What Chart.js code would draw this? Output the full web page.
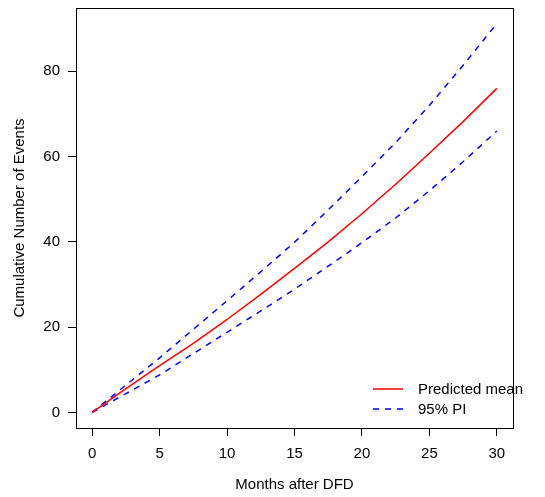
<!DOCTYPE html>
<html>
<head>
<meta charset="utf-8">
<script src="https://cdn.jsdelivr.net/npm/chart.js@4"></script>
<style>
  html, body { margin: 0; padding: 0; background: #fff; }
  #chart { display: block; }
</style>
</head>
<body>
<canvas id="chart" width="545" height="497"></canvas>
<script>
// months after DFD and the three curves
const months = [0, 2.5, 5, 7.5, 10, 12.5, 15, 17.5, 20, 22.5, 25, 27.5, 30];
const predictedMean = [0, 5.6, 11.0, 16.2, 21.8, 27.7, 33.8, 40.0, 46.6, 53.5, 60.8, 68.2, 76.0];
const upperPI = [0, 6.4, 12.8, 19.5, 26.2, 33.0, 39.9, 47.5, 55.3, 63.3, 72.0, 81.4, 91.2];
const lowerPI = [0, 4.4, 8.8, 13.8, 18.8, 23.8, 28.9, 34.3, 39.8, 45.6, 52.0, 58.8, 66.0];

const xTicks = [0, 5, 10, 15, 20, 25, 30];
const yTicks = [0, 20, 40, 60, 80];

const legendLabels = ["Predicted mean", "95% PI"];

const FONT = "'Liberation Sans', Arial, Helvetica, sans-serif";

function toPoints(xs, ys) {
    return xs.map(function (x, i) { return { x: x, y: ys[i] }; });
}

// box round the plot region + legend, like base R graphics
const boxAndLegend = {
    id: 'boxAndLegend',
    afterDatasetsDraw: function (chart) {
        const ctx = chart.ctx;
        const a = chart.chartArea;
        ctx.save();
        ctx.strokeStyle = '#000';
        ctx.lineWidth = 1;
        ctx.strokeRect(Math.round(a.left) + 0.5, Math.round(a.top) + 0.5,
            Math.round(a.right - a.left), Math.round(a.bottom - a.top));

        // legend, bottom right inside the box
        const x0 = 373, x1 = 403, tx = 418;
        const rows = [
            { y: 389, color: '#FF0000', dash: [] },
            { y: 409, color: '#0000FF', dash: [6, 6] }
        ];
        ctx.font = '15px ' + FONT;
        ctx.textBaseline = 'middle';
        ctx.textAlign = 'left';
        rows.forEach(function (r, i) {
            ctx.beginPath();
            ctx.setLineDash(r.dash);
            ctx.strokeStyle = r.color;
            ctx.lineWidth = 1.5;
            ctx.moveTo(x0, r.y);
            ctx.lineTo(x1, r.y);
            ctx.stroke();
            ctx.setLineDash([]);
            ctx.fillStyle = '#000';
            ctx.fillText(legendLabels[i], tx, r.y + 1);
        });
        ctx.restore();
    }
};

new Chart(document.getElementById('chart'), {
    type: 'line',
    data: {
        datasets: [
            {
                label: legendLabels[0],
                data: toPoints(months, predictedMean),
                borderColor: '#FF0000',
                borderWidth: 1.5,
                pointRadius: 0,
                tension: 0,
                fill: false
            },
            {
                label: legendLabels[1],
                data: toPoints(months, upperPI),
                borderColor: '#0000FF',
                borderWidth: 1.5,
                borderDash: [6, 6],
                pointRadius: 0,
                tension: 0,
                fill: false
            },
            {
                label: 'lower',
                data: toPoints(months, lowerPI),
                borderColor: '#0000FF',
                borderWidth: 1.5,
                borderDash: [6, 6],
                pointRadius: 0,
                tension: 0,
                fill: false
            }
        ]
    },
    options: {
        responsive: false,
        animation: false,
        layout: { padding: { left: 0, right: 32, top: 8, bottom: 0 } },
        plugins: {
            legend: { display: false },
            tooltip: { enabled: false }
        },
        scales: {
            x: {
                type: 'linear',
                min: -1.2,
                max: 31.2,
                afterBuildTicks: function (scale) {
                    scale.ticks = xTicks.map(function (v) { return { value: v }; });
                },
                afterFit: function (scale) {
                    scale.height = 69;
                    scale.paddingLeft = 0;
                    scale.paddingRight = 0;
                },
                border: { display: false },
                grid: {
                    drawOnChartArea: false,
                    drawTicks: true,
                    tickLength: 8,
                    color: '#000'
                },
                ticks: {
                    color: '#000',
                    font: { family: FONT, size: 15 },
                    padding: 9,
                    maxRotation: 0
                },
                title: {
                    display: true,
                    text: 'Months after DFD',
                    color: '#000',
                    font: { family: FONT, size: 15 },
                    padding: { top: 0, bottom: 3 }
                }
            },
            y: {
                type: 'linear',
                min: -3.65,
                max: 94.85,
                afterBuildTicks: function (scale) {
                    scale.ticks = yTicks.map(function (v) { return { value: v }; });
                },
                afterFit: function (scale) {
                    scale.width = 76;
                    scale.paddingTop = 0;
                    scale.paddingBottom = 0;
                },
                border: { display: false },
                grid: {
                    drawOnChartArea: false,
                    drawTicks: true,
                    tickLength: 8,
                    color: '#000'
                },
                ticks: {
                    color: '#000',
                    font: { family: FONT, size: 15 },
                    padding: 8
                },
                title: {
                    display: true,
                    text: 'Cumulative Number of Events',
                    color: '#000',
                    font: { family: FONT, size: 15 },
                    padding: { top: 11, bottom: 0 }
                }
            }
        }
    },
    plugins: [boxAndLegend]
});
</script>
</body>
</html>
